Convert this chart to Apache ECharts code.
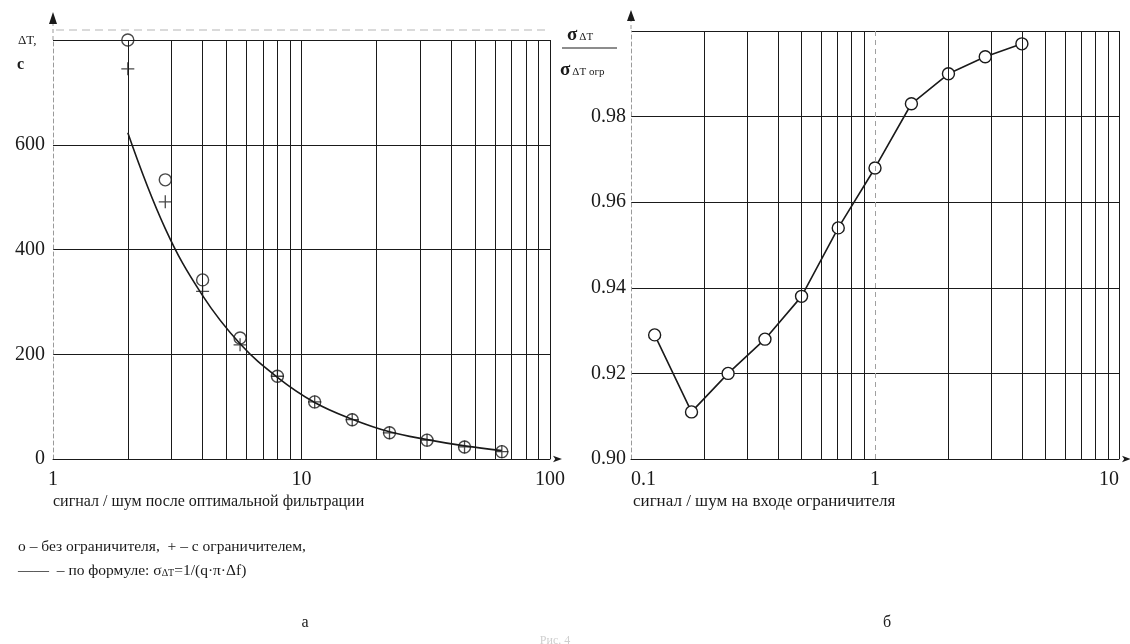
<!DOCTYPE html>
<html>
<head>
<meta charset="utf-8">
<script src="https://cdn.jsdelivr.net/npm/echarts@6/dist/echarts.min.js"></script>
<style>
html, body { margin: 0; padding: 0; background: #fff; }
#chart { width: 1130px; height: 644px; }
</style>
</head>
<body>
<div id="chart"></div>
<script>
// а: ΔT, с  vs  сигнал / шум после оптимальной фильтрации
var leftQ = [2, 2.83, 4, 5.66, 8, 11.3, 16, 22.6, 32, 45.3, 64];
var leftNoLimiter = [800, 533, 342, 231, 158, 109, 75, 50, 36, 23, 14];
var leftLimiter = [745, 491, 320, 218, 158, 109, 75, 50, 36, 23, 14];
var leftFormula = [623, 440, 312, 220, 156, 108, 76, 52, 37, 25, 16];
var leftGridX = [2, 3, 4, 5, 6, 7, 8, 9, 10, 20, 30, 40, 50, 60, 70, 80, 90, 100];

// б: σΔT / σΔT огр  vs  сигнал / шум на входе ограничителя
var rightQ = [0.125, 0.177, 0.25, 0.354, 0.5, 0.707, 1, 1.41, 2, 2.83, 4];
var rightRatio = [0.929, 0.911, 0.920, 0.928, 0.938, 0.954, 0.968, 0.983, 0.990, 0.994, 0.997];
var rightGridX = [0.2, 0.3, 0.4, 0.5, 0.6, 0.7, 0.8, 0.9, 2, 3, 4, 5, 6, 7, 8, 9, 10];
var rightGridXDashed = [1];

var serif = 'Liberation Serif';
var ink = '#1a1a1a';

var pairs = function (xs, ys) {
    return xs.map(function (x, i) { return [x, ys[i]]; });
};
var vlines = function (xs) {
    return xs.map(function (x) { return { xAxis: x }; });
};
var gridSeries = function (axisIndex, xs, style) {
    return {
        type: 'line',
        xAxisIndex: axisIndex, yAxisIndex: axisIndex,
        data: [],
        z: 1,
        silent: true,
        markLine: {
            silent: true,
            symbol: 'none',
            label: { show: false },
            lineStyle: style,
            data: vlines(xs)
        }
    };
};

var plusPath = 'path://M-1,-10L1,-10L1,-1L10,-1L10,1L1,1L1,10L-1,10L-1,1L-10,1L-10,-1L-1,-1Z';

var chart = echarts.init(document.getElementById('chart'));

var yAxisLine = {
    show: true,
    lineStyle: { color: '#9a9a9a', width: 1, type: [4, 3] }
};
var xAxisLine = {
    show: true,
    symbol: ['none', 'arrow'],
    symbolSize: [5, 9],
    symbolOffset: [0, 12],
    lineStyle: { color: ink, width: 1 }
};
var tickFont = { fontFamily: serif, fontSize: 20, color: ink };

var option = {
    backgroundColor: '#ffffff',
    animation: false,
    grid: [
        { left: 53, top: 40, right: 580, bottom: 185 },
        { left: 631, top: 31, right: 11, bottom: 185 }
    ],
    xAxis: [{
        gridIndex: 0,
        type: 'log',
        logBase: 10,
        min: 1,
        max: 100,
        axisLine: xAxisLine,
        axisTick: { show: false },
        splitLine: { show: false },
        axisLabel: Object.assign({ margin: 11 }, tickFont)
    }, {
        gridIndex: 1,
        type: 'log',
        logBase: 10,
        min: 0.1,
        max: 10,
        axisLine: xAxisLine,
        axisTick: { show: false },
        splitLine: { show: false },
        axisLabel: Object.assign({ margin: 11, alignMinLabel: 'left', alignMaxLabel: 'right' }, tickFont)
    }],
    yAxis: [{
        gridIndex: 0,
        type: 'value',
        min: 0,
        max: 800,
        interval: 200,
        axisLine: yAxisLine,
        axisTick: { show: false },
        splitLine: { show: true, lineStyle: { color: ink, width: 1 } },
        axisLabel: Object.assign({
            margin: 8,
            formatter: function (v) { return v >= 800 ? '' : String(v); }
        }, tickFont)
    }, {
        gridIndex: 1,
        type: 'value',
        min: 0.9,
        max: 1.0,
        interval: 0.02,
        axisLine: yAxisLine,
        axisTick: { show: false },
        splitLine: { show: true, lineStyle: { color: ink, width: 1 } },
        axisLabel: Object.assign({
            margin: 5,
            formatter: function (v) { return v >= 0.999 ? '' : v.toFixed(2); }
        }, tickFont)
    }],
    series: [
        gridSeries(0, leftGridX, { color: ink, width: 1, type: 'solid' }),
        gridSeries(1, rightGridX, { color: ink, width: 1, type: 'solid' }),
        gridSeries(1, rightGridXDashed, { color: '#a0a0a0', width: 1, type: [5, 4] }),
    {
        name: 'по формуле',
        type: 'line',
        xAxisIndex: 0, yAxisIndex: 0,
        smooth: 0.4,
        showSymbol: false,
        data: pairs(leftQ, leftFormula),
        lineStyle: { color: ink, width: 1.6 },
        z: 3
    }, {
        name: 'без ограничителя',
        type: 'scatter',
        xAxisIndex: 0, yAxisIndex: 0,
        symbol: 'circle',
        symbolSize: 12,
        data: pairs(leftQ, leftNoLimiter),
        itemStyle: { color: 'rgba(0,0,0,0)', borderColor: ink, borderWidth: 1.4 },
        z: 4
    }, {
        name: 'с ограничителем',
        type: 'scatter',
        xAxisIndex: 0, yAxisIndex: 0,
        symbol: plusPath,
        symbolSize: 13,
        data: pairs(leftQ, leftLimiter),
        itemStyle: { color: ink },
        z: 5
    }, {
        name: 'отношение',
        type: 'line',
        xAxisIndex: 1, yAxisIndex: 1,
        symbol: 'circle',
        symbolSize: 12,
        data: pairs(rightQ, rightRatio),
        lineStyle: { color: ink, width: 1.6 },
        itemStyle: { color: '#ffffff', borderColor: ink, borderWidth: 1.4 },
        z: 4
    }],
    graphic: [
        // y axis arrows above the plot areas
        { type: 'line', shape: { x1: 53, y1: 22, x2: 53, y2: 40 }, style: { stroke: '#9a9a9a', lineWidth: 1, lineDash: [4, 3] } },
        { type: 'polygon', shape: { points: [[53, 12], [49, 24], [57, 24]] }, style: { fill: ink } },
        { type: 'line', shape: { x1: 631, y1: 18, x2: 631, y2: 31 }, style: { stroke: '#9a9a9a', lineWidth: 1, lineDash: [4, 3] } },
        { type: 'polygon', shape: { points: [[631, 10], [627, 21], [635, 21]] }, style: { fill: ink } },
        { type: 'line', shape: { x1: 56, y1: 30, x2: 550, y2: 30 }, style: { stroke: '#b5b5b5', lineWidth: 1, lineDash: [8, 5] } },
        // left y title
        { type: 'text', x: 18, y: 41, style: { text: 'ΔT,', font: '13px "Liberation Serif"', fill: ink, textVerticalAlign: 'middle' } },
        { type: 'text', x: 17, y: 65, style: { text: 'с', font: 'bold 16px "Liberation Serif"', fill: ink, textVerticalAlign: 'middle' } },
        // right y title (fraction)
        { type: 'text', x: 567, y: 35, style: {
            text: '{s|σ}{d|ΔT}', textVerticalAlign: 'middle', fill: ink,
            rich: { s: { font: 'bold 19px "Liberation Serif"', fill: ink }, d: { font: '11px "Liberation Serif"', fill: ink, padding: [4, 0, 0, 2] } }
        } },
        { type: 'line', shape: { x1: 562, y1: 48, x2: 617, y2: 48 }, style: { stroke: ink, lineWidth: 1 } },
        { type: 'text', x: 560, y: 70, style: {
            text: '{s|σ}{d|ΔT огр}', textVerticalAlign: 'middle', fill: ink,
            rich: { s: { font: 'bold 19px "Liberation Serif"', fill: ink }, d: { font: '11px "Liberation Serif"', fill: ink, padding: [4, 0, 0, 2] } }
        } },
        // axis titles
        { type: 'text', x: 53, y: 502, style: { text: 'сигнал / шум после оптимальной фильтрации', font: '16px "Liberation Serif"', fill: ink, textVerticalAlign: 'middle' } },
        { type: 'text', x: 633, y: 502, style: { text: 'сигнал / шум на входе ограничителя', font: '17px "Liberation Serif"', fill: ink, textVerticalAlign: 'middle' } },
        // legend notes
        { type: 'text', x: 18, y: 547, style: { text: 'о – без ограничителя,  + – с ограничителем,', font: '15.5px "Liberation Serif"', fill: ink, textVerticalAlign: 'middle' } },
        { type: 'text', x: 18, y: 571, style: {
            text: '{t|——  – по формуле: σ}{d|ΔT}{t|=1/(q·π·Δf)}', textVerticalAlign: 'middle', fill: ink,
            rich: { t: { font: '15.5px "Liberation Serif"', fill: ink }, d: { font: '10px "Liberation Serif"', fill: ink, padding: [5, 0, 0, 0] } }
        } },
        // panel letters
        { type: 'text', x: 305, y: 623, style: { text: 'а', font: '16px "Liberation Serif"', fill: ink, textAlign: 'center', textVerticalAlign: 'middle' } },
        { type: 'text', x: 887, y: 623, style: { text: 'б', font: '16px "Liberation Serif"', fill: ink, textAlign: 'center', textVerticalAlign: 'middle' } },
        { type: 'text', x: 555, y: 641, style: { text: 'Рис. 4', font: '12px "Liberation Serif"', fill: '#cfcfcf', textAlign: 'center', textVerticalAlign: 'middle' } }
    ]
};

chart.setOption(option);
</script>
</body>
</html>
